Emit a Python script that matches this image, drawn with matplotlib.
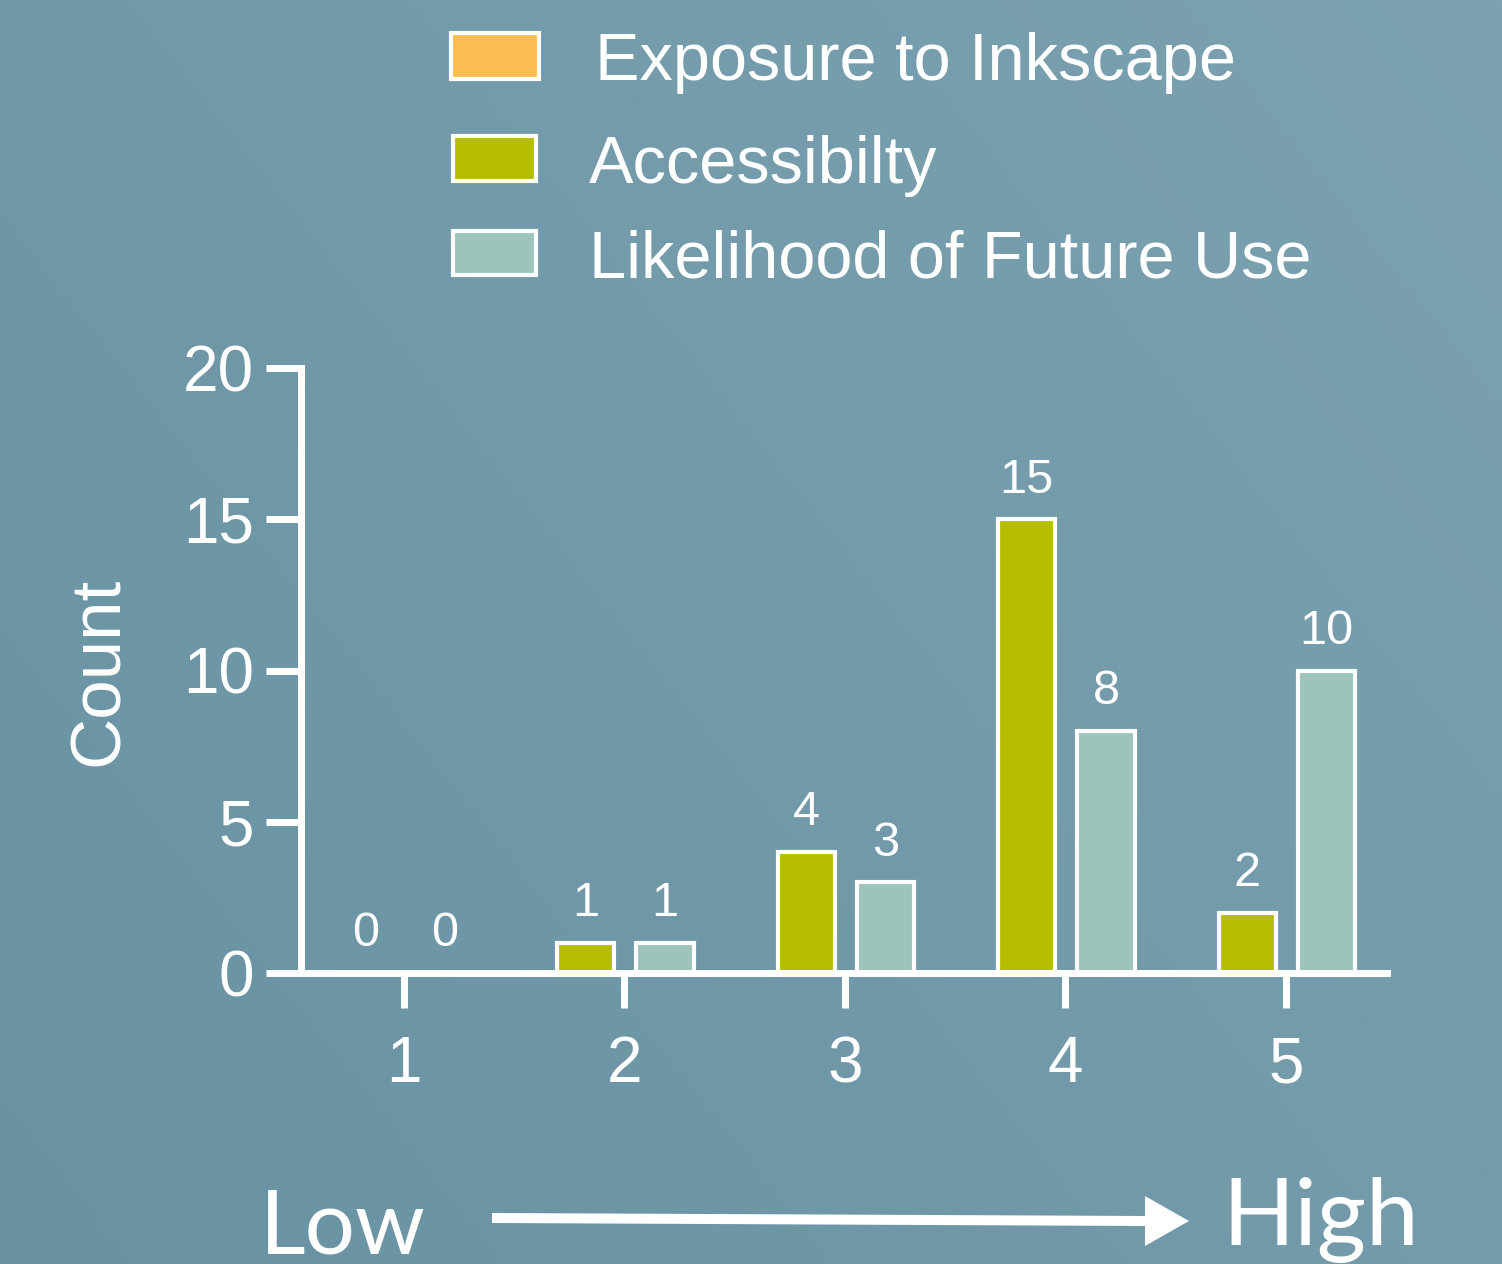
import numpy as np
import matplotlib
matplotlib.use("Agg")
import matplotlib.pyplot as plt
from matplotlib.patches import Rectangle, Polygon

# ---- data ----
ratings = [1, 2, 3, 4, 5]
tick_labels = ["1", "2", "3", "4", "5"]
accessibility = [0, 1, 4, 15, 2]
future_use = [0, 1, 3, 8, 10]
series_names = ["Exposure to Inkscape", "Accessibilty", "Likelihood of Future Use"]
series_colors = ["#FBBD51", "#B5BE00", "#9CC4BA"]
y_ticks = [0, 5, 10, 15, 20]

W, H = 1502, 1264
fig = plt.figure(figsize=(W / 100, H / 100), dpi=100)

# ---- background (gradient) in pixel coords ----
bg = fig.add_axes([0, 0, 1, 1])
bg.set_xlim(0, W)
bg.set_ylim(H, 0)
bg.axis("off")
xx, yy = np.meshgrid(np.linspace(0, 1, 200), np.linspace(0, 1, 200))
t = 0.6 * xx + 0.4 * (1 - yy)  # yy=0 top row
c0 = np.array([104, 146, 162]) / 255.0
c1 = np.array([124, 162, 177]) / 255.0
img = c0[None, None, :] + (c1 - c0)[None, None, :] * t[:, :, None]
bg.imshow(img, extent=[0, W, H, 0], aspect="auto", zorder=0)

# ---- manual legend ----
leg_boxes = [(449, 31, 92, 50), (451, 134, 87, 49), (451, 229, 87, 48)]
leg_text = [(595, 80), (589, 183), (589, 277)]
for (x, y, w, h), (tx, ty), name, col in zip(leg_boxes, leg_text, series_names, series_colors):
    bg.add_patch(Rectangle((x + 2, y + 2), w - 4, h - 4, facecolor=col,
                           edgecolor="white", linewidth=3, zorder=2))
    bg.text(tx, ty, name, fontsize=48, color="white", family="Liberation Sans",
            ha="left", va="baseline", zorder=3)

# ---- Low -> High arrow ----
bg.plot([492, 1148], [1218, 1221], color="white", lw=7.2, solid_capstyle="butt", zorder=2)
bg.add_patch(Polygon([(1145, 1196), (1189, 1221), (1145, 1246)], closed=True,
                     facecolor="white", edgecolor="none", zorder=2))
bg.text(260, 1253, "Low", fontsize=64, color="white", family="Lato", weight="normal",
        ha="left", va="baseline", zorder=3)
bg.text(1222, 1245, "High", fontsize=68, color="white", family="Lato", weight="normal",
        ha="left", va="baseline", zorder=3)

# ---- Count label ----
bg.text(100, 671, "Count", fontsize=51, color="white", family="Liberation Sans",
        rotation=90, ha="center", va="center", zorder=3)

# ---- main axes ----
left, right, top, bottom = 301, 1387, 368, 973
ax = fig.add_axes([left / W, 1 - bottom / H, (right - left) / W, (bottom - top) / H])
ax.set_facecolor("none")
x = np.array(ratings, dtype=float)
bw = 0.26
b1 = ax.bar(x - 0.176, accessibility, width=bw, color=series_colors[1],
            edgecolor="white", linewidth=3, zorder=2)
b2 = ax.bar(x + 0.184, future_use, width=bw, color=series_colors[2],
            edgecolor="white", linewidth=3, zorder=2)
for cont in (b1, b2):
    ax.bar_label(cont, padding=12, fontsize=35, color="white", family="Liberation Sans")

ax.set_xlim(0.533, 5.458)
ax.set_ylim(0, 20)
ax.set_xticks(ratings)
ax.set_xticklabels(tick_labels)
ax.set_yticks(y_ticks)
ax.set_yticklabels([str(v) for v in y_ticks])
for s in ["top", "right"]:
    ax.spines[s].set_visible(False)
for s in ["left", "bottom"]:
    ax.spines[s].set_color("white")
    ax.spines[s].set_linewidth(5)
    ax.spines[s].set_capstyle("projecting")
ax.tick_params(axis="both", colors="white", width=5, length=25)
ax.tick_params(axis="y", pad=9, labelsize=46)
ax.tick_params(axis="x", pad=20, labelsize=46)
for lab in ax.get_xticklabels() + ax.get_yticklabels():
    lab.set_family("Liberation Sans")

fig.savefig("out.png", dpi=100)
